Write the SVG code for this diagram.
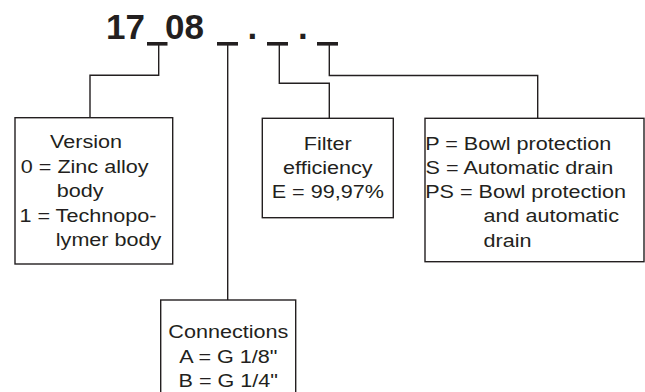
<svg xmlns="http://www.w3.org/2000/svg" width="645" height="392" viewBox="0 0 645 392">
  <style>
    .bg { fill: #ffffff; }
    .box { fill: #ffffff; stroke: #231f20; stroke-width: 1.4; }
    .conn { fill: none; stroke: #231f20; stroke-width: 1.4; }
    .bar { fill: #231f20; }
    .t { font-family: "Liberation Sans", Arial, sans-serif; font-size: 18.3px; fill: #231f20; }
    .c { text-anchor: middle; }
    .title { font-family: "Liberation Sans", Arial, sans-serif; font-size: 35px; font-weight: bold; fill: #231f20; }
  </style>
  <rect class="bg" x="0" y="0" width="645" height="392"/>

  <g id="title">
    <text class="title" x="106" y="38.5">17</text>
    <text class="title" x="165" y="38.5">08</text>
    <text class="title" x="247.5" y="38.5">.</text>
    <text class="title" x="298" y="38.5">.</text>
    <rect class="bar" x="147" y="42" width="20.5" height="3.6"/>
    <rect class="bar" x="217" y="42" width="21" height="3.6"/>
    <rect class="bar" x="267" y="42" width="21" height="3.6"/>
    <rect class="bar" x="317" y="42" width="21" height="3.6"/>
  </g>

  <g id="connectors">
    <polyline class="conn" points="158.7,45 158.7,75.3 90,75.3 90,117.7"/>
    <polyline class="conn" points="227.7,45 227.7,300"/>
    <polyline class="conn" points="279.3,45 279.3,83.3 329.3,83.3 329.3,118.3"/>
    <polyline class="conn" points="329.3,45 329.3,75.5 537.7,75.5 537.7,118.3"/>
  </g>

  <g id="node-version">
    <rect class="box" x="15" y="117.7" width="157.7" height="146.3"/>
    <text class="t" transform="translate(50,148.3) scale(1.18,1)">Version</text>
    <text class="t" transform="translate(20.8,172.8) scale(1.18,1)">0 = Zinc alloy</text>
    <text class="t" transform="translate(56.8,197.2) scale(1.18,1)">body</text>
    <text class="t" transform="translate(19.4,221.6) scale(1.18,1)">1 = Technopo-</text>
    <text class="t" transform="translate(55.8,246.3) scale(1.18,1)">lymer body</text>
  </g>

  <g id="node-filter">
    <rect class="box" x="262.3" y="118.3" width="131" height="99.4"/>
    <text class="t c" transform="translate(327.8,150) scale(1.18,1)">Filter</text>
    <text class="t c" transform="translate(327.8,174.3) scale(1.18,1)">efficiency</text>
    <text class="t c" transform="translate(327.8,198.3) scale(1.18,1)">E = 99,97%</text>
  </g>

  <g id="node-options">
    <rect class="box" x="425" y="118.3" width="219" height="143.4"/>
    <text class="t" transform="translate(425.2,150) scale(1.18,1)">P = Bowl protection</text>
    <text class="t" transform="translate(425.6,173.6) scale(1.18,1)">S = Automatic drain</text>
    <text class="t" transform="translate(425.2,197.8) scale(1.18,1)">PS = Bowl protection</text>
    <text class="t" transform="translate(483.4,222.2) scale(1.18,1)">and automatic</text>
    <text class="t" transform="translate(483.6,246.6) scale(1.18,1)">drain</text>
  </g>

  <g id="node-connections">
    <rect class="box" x="160.7" y="300" width="135" height="110"/>
    <text class="t c" transform="translate(228.3,338.3) scale(1.18,1)">Connections</text>
    <text class="t c" transform="translate(228.3,362.7) scale(1.18,1)">A = G 1/8"</text>
    <text class="t c" transform="translate(228.3,386.7) scale(1.18,1)">B = G 1/4"</text>
  </g>
</svg>
